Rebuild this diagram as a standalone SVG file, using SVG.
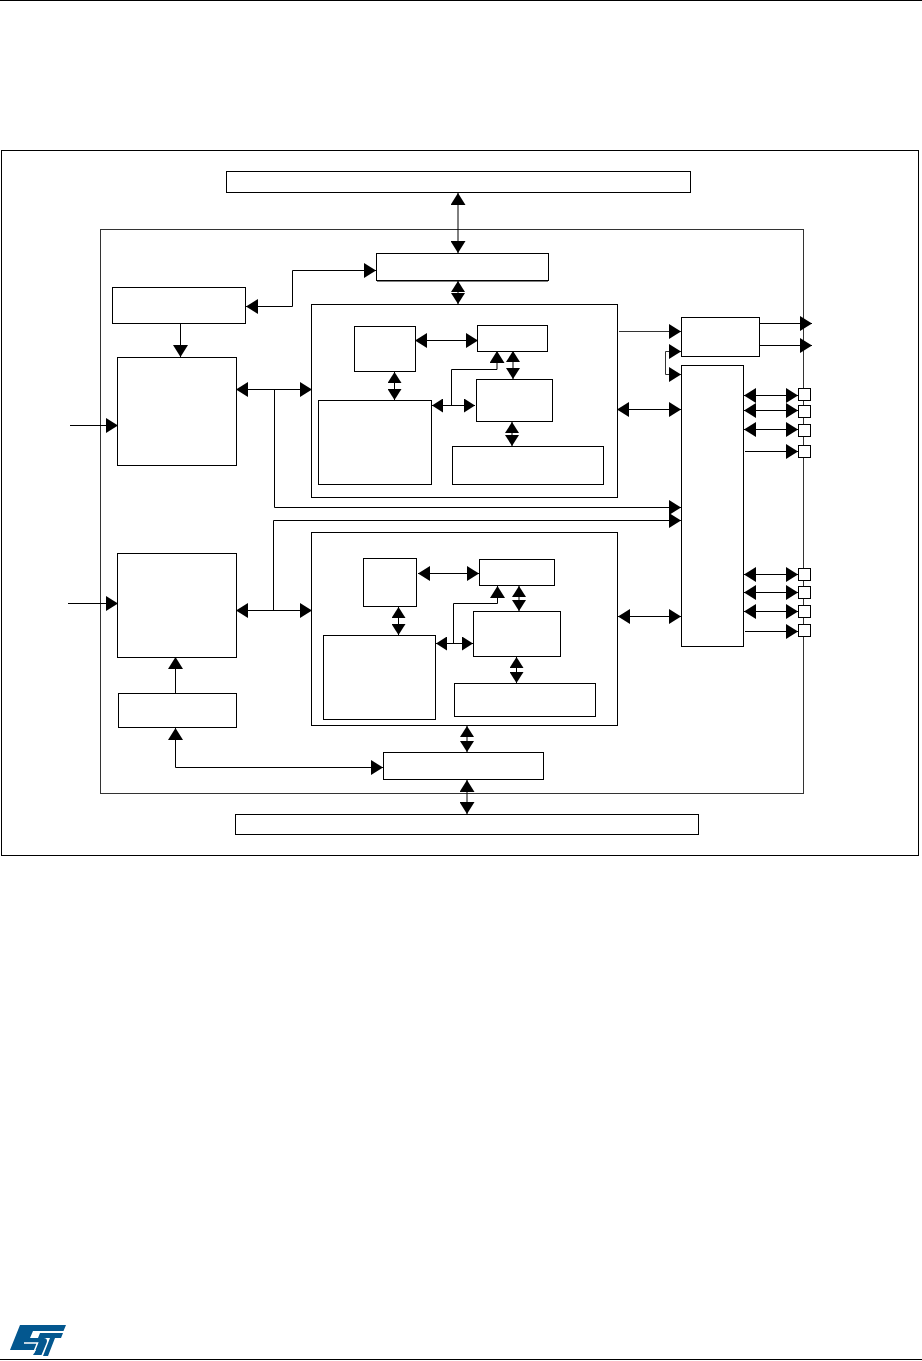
<svg xmlns="http://www.w3.org/2000/svg" width="922" height="1361" viewBox="0 0 922 1361">
<style>
.b{fill:#fff;stroke:#000;stroke-width:1}
.c{fill:none;stroke:#000;stroke-width:1}
.g{stroke:#333}
.a{marker-end:url(#e)}
.d{marker-start:url(#s);marker-end:url(#e)}
.v{marker-start:url(#s2);marker-end:url(#e2)}
</style>
<defs>
<marker id="e" markerUnits="userSpaceOnUse" markerWidth="12" markerHeight="15" refX="12" refY="7.500" orient="auto"><path d="M0 0L12 7.500L0 15Z"/></marker>
<marker id="s" markerUnits="userSpaceOnUse" markerWidth="12" markerHeight="15" refX="0" refY="7.500" orient="auto"><path d="M12 0L0 7.500L12 15Z"/></marker>
<marker id="e2" markerUnits="userSpaceOnUse" markerWidth="11" markerHeight="14" refX="11" refY="7" orient="auto"><path d="M0 0L11 7L0 14Z"/></marker>
<marker id="s2" markerUnits="userSpaceOnUse" markerWidth="11" markerHeight="14" refX="0" refY="7" orient="auto"><path d="M11 0L0 7L11 14Z"/></marker>
</defs>
<rect width="922" height="1361" fill="#fff"/>
<path class="c" d="M0 0.500H922M0 1359.500H922"/>
<g id="frame"><rect class="b" x="1.500" y="150.500" width="917" height="705"/></g>
<g id="chip"><rect class="b g" x="100.500" y="229.500" width="703" height="564"/></g>
<g id="top-bar"><rect class="b" x="226.500" y="171.500" width="464" height="21"/></g>
<g id="bottom-bar"><rect class="b" x="235.500" y="814.500" width="463" height="20"/></g>
<g id="top-if"><rect class="b" x="376.500" y="253.500" width="172" height="27"/><path class="c" d="M377 281H548"/></g>
<g id="bottom-if"><rect class="b" x="383.500" y="752.500" width="160" height="27"/></g>
<g id="top-left"><rect class="b" x="112.500" y="287.500" width="133" height="36"/></g>
<g id="cpu-top"><rect class="b" x="117.500" y="357.500" width="119" height="108"/></g>
<g id="cpu-bottom"><rect class="b" x="117.500" y="553.500" width="119" height="104"/></g>
<g id="bottom-left"><rect class="b" x="118.500" y="693.500" width="118" height="34"/></g>
<g id="block-top"><rect class="b" x="311.500" y="304.500" width="306" height="193"/></g>
<g id="t1"><rect class="b" x="354.500" y="326.500" width="61" height="45"/></g>
<g id="t2"><rect class="b" x="477.500" y="325.500" width="70" height="26"/></g>
<g id="t3"><rect class="b" x="476.500" y="379.500" width="76" height="42"/></g>
<g id="t4"><rect class="b" x="318.500" y="400.500" width="113" height="84"/></g>
<g id="t5"><rect class="b" x="452.500" y="446.500" width="151" height="38"/></g>
<g id="block-bottom"><rect class="b" x="311.500" y="532.500" width="306" height="193"/></g>
<g id="u1"><rect class="b" x="363.500" y="558.500" width="53" height="48"/></g>
<g id="u2"><rect class="b" x="479.500" y="559.500" width="75" height="26"/></g>
<g id="u3"><rect class="b" x="473.500" y="611.500" width="87" height="45"/></g>
<g id="u4"><rect class="b" x="323.500" y="635.500" width="112" height="84"/></g>
<g id="u5"><rect class="b" x="454.500" y="683.500" width="141" height="33"/></g>
<g id="out-top"><rect class="b" x="681.500" y="317.500" width="78" height="39"/></g>
<g id="mux"><rect class="b" x="681.500" y="365.500" width="62" height="281"/></g>
<g id="pin1"><rect class="b" x="798.500" y="388.500" width="12" height="12"/></g>
<g id="pin2"><rect class="b" x="798.500" y="405.500" width="12" height="12"/></g>
<g id="pin3"><rect class="b" x="798.500" y="424.500" width="12" height="12"/></g>
<g id="pin4"><rect class="b" x="798.500" y="445.500" width="12" height="12"/></g>
<g id="pin5"><rect class="b" x="798.500" y="568.500" width="12" height="12"/></g>
<g id="pin6"><rect class="b" x="798.500" y="586.500" width="12" height="12"/></g>
<g id="pin7"><rect class="b" x="798.500" y="605.500" width="12" height="12"/></g>
<g id="pin8"><rect class="b" x="798.500" y="624.500" width="12" height="12"/></g>
<g id="connectors">
<path class="c d" d="M458 193V253"/>
<path class="c v" d="M458 281V304"/>
<path class="c d" d="M376 270.500H292.500V306.500H246"/>
<path class="c a" d="M180.500 324V357"/>
<path class="c a" d="M70 425.500H118"/>
<path class="c a" d="M68 603.500H118"/>
<path class="c a" d="M175.500 693V657"/>
<path class="c d" d="M236 389.500H312"/>
<path class="c d" d="M236 610.500H312"/>
<path class="c a" d="M274.500 390V507.500H681"/>
<path class="c a" d="M273.500 610V520.500H681"/>
<path class="c d" d="M175.500 728V767.500H383"/>
<path class="c v" d="M467 726V752"/>
<path class="c d" d="M467 780V814"/>
<path class="c d" d="M415 340.500H478"/>
<path class="c v" d="M394.500 372V400"/>
<path class="c v" d="M513 351V379"/>
<path class="c v" d="M512 422V446"/>
<path class="c v" d="M432 405.500H475"/>
<path class="c a" d="M451.500 405V369.500H497V351"/>
<path class="c d" d="M418 573.500H479"/>
<path class="c v" d="M398.500 607V635"/>
<path class="c v" d="M519 586V611"/>
<path class="c v" d="M516.500 657V683"/>
<path class="c v" d="M436 643.500H473"/>
<path class="c a" d="M453.500 643V603.500H497.500V586"/>
<path class="c a g" d="M619 331.500H681"/>
<path class="c d" d="M617 409.500H681"/>
<path class="c d" d="M618 616.500H681"/>
<path class="c a g" d="M665.500 351.500H681"/>
<path class="c a g" d="M665.500 351.500V374.500H681"/>
<path class="c a" d="M760 323.500H812"/>
<path class="c a" d="M760 345.500H812"/>
<path class="c d" d="M744 395.500H798"/>
<path class="c d" d="M744 410.500H798"/>
<path class="c d" d="M744 429.500H798"/>
<path class="c a" d="M745 451.500H798"/>
<path class="c d" d="M744 574.500H798"/>
<path class="c d" d="M744 592.500H798"/>
<path class="c d" d="M744 611.500H798"/>
<path class="c a" d="M745 631.500H798"/>
</g>
<g id="logo">
<path fill="#03578f" d="M20 1325H66L63.500 1331H33L30 1338H44C47 1338 47.500 1341 46.500 1343L41.500 1355H33L36 1350H10Z"/>
<path fill="none" stroke="#fff" stroke-width="1.500" d="M24 1343H37.500L33.500 1353"/>
<path fill="#03578f" d="M40 1333H63L61 1338H55L48 1356H43L50 1338H38Z"/>
</g>
</svg>
